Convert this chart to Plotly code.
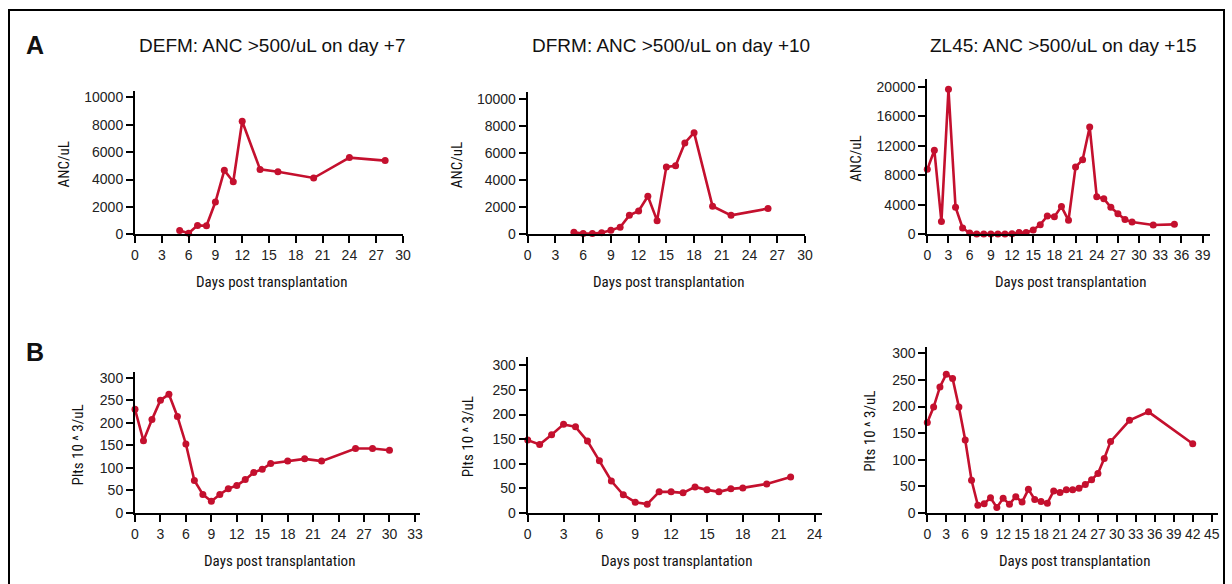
import plotly.graph_objects as go

# ---------------- data ----------------
defm_anc_days = [5, 6, 7, 8, 9, 10, 11, 12, 14, 16, 20, 24, 28]
defm_anc_vals = [270, 70, 650, 620, 2360, 4670, 3840, 8250, 4740, 4570, 4110, 5600, 5380]

dfrm_anc_days = [5, 6, 7, 8, 9, 10, 11, 12, 13, 14, 15, 16, 17, 18, 20, 22, 26]
dfrm_anc_vals = [150, 50, 50, 120, 300, 520, 1400, 1720, 2810, 1010, 4980, 5070, 6750, 7510, 2070, 1400, 1900]

zl45_anc_days = [0, 1, 2, 3, 4, 5, 6, 7, 8, 9, 10, 11, 12, 13, 14, 15, 16, 17, 18, 19,
                 20, 21, 22, 23, 24, 25, 26, 27, 28, 29, 32, 35]
zl45_anc_vals = [8800, 11380, 1720, 19640, 3660, 860, 180, 50, 50, 50, 50, 50, 90, 230, 230, 590,
                 1310, 2480, 2390, 3750, 1900, 9120, 10110, 14540, 5100, 4830, 3660, 2800, 1990,
                 1670, 1260, 1350]

defm_plt_days = [0, 1, 2, 3, 4, 5, 6, 7, 8, 9, 10, 11, 12, 13, 14, 15, 16, 18, 20, 22, 26, 28, 30]
defm_plt_vals = [230, 160, 207, 250, 263, 214, 153, 72, 41, 26, 41, 54, 61, 74, 90, 97, 110,
                 115, 120, 115, 143, 143, 139]

dfrm_plt_days = [0, 1, 2, 3, 4, 5, 6, 7, 8, 9, 10, 11, 12, 13, 14, 15, 16, 17, 18, 20, 22]
dfrm_plt_vals = [148, 139, 159, 180, 175, 146, 106, 65, 37, 22, 18, 43, 43, 41, 53, 47, 43, 49,
                 51, 59, 73]

zl45_plt_days = [0, 1, 2, 3, 4, 5, 6, 7, 8, 9, 10, 11, 12, 13, 14, 15, 16, 17, 18, 19, 20, 21,
                 22, 23, 24, 25, 26, 27, 28, 29, 32, 35, 42]
zl45_plt_vals = [170, 199, 237, 261, 253, 199, 137, 61, 14, 17, 28, 10, 27, 16, 30, 20, 44, 25,
                 21, 18, 41, 38, 43, 43, 46, 53, 62, 74, 102, 134, 174, 190, 130]

titles = ["DEFM: ANC >500/uL on day +7",
          "DFRM: ANC >500/uL on day +10",
          "ZL45: ANC >500/uL on day +15"]
x_title = "Days post transplantation"
y_title_anc = "ANC/uL"
y_title_plt = "Plts 10 ^ 3/uL"

# ---------------- layout helpers ----------------
W, H = 1232, 584
RED = "#C4102E"
TICK_FONT = dict(family="Liberation Sans, Arial, sans-serif", size=14, color="#222222")
NARROW = "Liberation Sans Narrow, Roboto Condensed, DejaVu Sans Condensed, Roboto, sans-serif"


def fx(px):
    return px / W


def fy(py):
    return 1 - py / H


# panel: (days, vals, xdom px, xrange, xdtick, ytop px, ybottom px, yrange, ydtick, ytitle, ytitle_x)
panels = [
    (defm_anc_days, defm_anc_vals, (135, 403), (0, 30), 3, 90.5, 234.3, (0, 10500), 2000, y_title_anc, 64),
    (dfrm_anc_days, dfrm_anc_vals, (527.7, 805), (0, 30), 3, 92.2, 234.3, (0, 10500), 2000, y_title_anc, 457),
    (zl45_anc_days, zl45_anc_vals, (927.3, 1209.7), (0, 40), 3, 79.3, 234.3, (0, 21000), 4000, y_title_anc, 856),
    (defm_plt_days, defm_plt_vals, (135, 420), (0, 33.6), 3, 371.8, 513, (0, 313), 50, y_title_plt, 78),
    (dfrm_plt_days, dfrm_plt_vals, (527.7, 821.7), (0, 24.6), 3, 357.4, 513, (0, 316), 50, y_title_plt, 468),
    (zl45_plt_days, zl45_plt_vals, (927.3, 1218), (0, 46), 3, 346.8, 512.7, (0, 312.5), 50, y_title_plt, 870),
]

fig = go.Figure()
annotations = []
layout_axes = {}

for i, (days, vals, xd, xr, xdt, ytop, ybot, yr, ydt, ytt, ytx) in enumerate(panels):
    n = i + 1
    xa = "x" if n == 1 else f"x{n}"
    ya = "y" if n == 1 else f"y{n}"
    fig.add_trace(go.Scatter(
        x=days, y=vals, mode="lines+markers", xaxis=xa, yaxis=ya,
        line=dict(color=RED, width=2.6), marker=dict(color=RED, size=7),
        cliponaxis=False, showlegend=False, hoverinfo="x+y"))
    last_tick = int(xr[1] // xdt) * xdt
    layout_axes["xaxis" if n == 1 else f"xaxis{n}"] = dict(
        domain=[fx(xd[0]), fx(xd[1])], range=list(xr), anchor=ya, automargin=False,
        tickmode="array", tickvals=list(range(0, last_tick + 1, xdt)),
        ticks="outside", ticklen=7, tickwidth=2, tickcolor="black",
        showline=True, linecolor="black", linewidth=2, showgrid=False, zeroline=False,
        tickfont=TICK_FONT, fixedrange=True)
    ylast = int(yr[1] // ydt) * ydt
    layout_axes["yaxis" if n == 1 else f"yaxis{n}"] = dict(
        domain=[fy(ybot), fy(ytop)], range=list(yr), anchor=xa, automargin=False,
        tickmode="array", tickvals=list(range(0, ylast + 1, ydt)), tickformat="d",
        ticks="outside", ticklen=7, tickwidth=2, tickcolor="black",
        showline=True, linecolor="black", linewidth=2, showgrid=False, zeroline=False,
        tickfont=TICK_FONT, fixedrange=True)
    # x-axis title
    annotations.append(dict(
        text=x_title, x=fx((xd[0] + xd[1]) / 2 + 2), y=fy(ybot + 48), xref="paper", yref="paper",
        showarrow=False, xanchor="center", yanchor="middle",
        font=dict(family=NARROW, size=15, color="#111111")))
    # y-axis title
    annotations.append(dict(
        text=ytt, x=fx(ytx), y=fy((ytop + ybot) / 2 + 2), xref="paper", yref="paper",
        showarrow=False, xanchor="center", yanchor="middle", textangle=-90,
        font=dict(family=NARROW, size=15, color="#111111")))

# panel titles
for t, cx in zip(titles, [272, 671, 1063]):
    annotations.append(dict(
        text=t, x=fx(cx), y=fy(45), xref="paper", yref="paper", showarrow=False,
        xanchor="center", yanchor="middle",
        font=dict(family="Liberation Sans, Arial, sans-serif", size=19, color="#111111")))

# panel letters
for letter, py in [("A", 45), ("B", 352)]:
    annotations.append(dict(
        text=f"<b>{letter}</b>", x=fx(35), y=fy(py), xref="paper", yref="paper",
        showarrow=False, xanchor="center", yanchor="middle",
        font=dict(family="Liberation Sans, Arial, sans-serif", size=25, color="#111111")))

fig.update_layout(
    template="none",
    width=W, height=H, autosize=False,
    margin=dict(l=0, r=0, t=0, b=0, pad=0),
    paper_bgcolor="white", plot_bgcolor="white",
    annotations=annotations,
    shapes=[dict(type="rect", xref="paper", yref="paper",
                 x0=fx(9), x1=fx(1224), y0=-0.1, y1=fy(10),
                 line=dict(color="black", width=2), fillcolor="rgba(0,0,0,0)")],
    **layout_axes)

fig.write_html(
    "out.html",
    config={"displayModeBar": False},
    post_script="document.body.style.margin='0';document.body.style.overflow='hidden';")
